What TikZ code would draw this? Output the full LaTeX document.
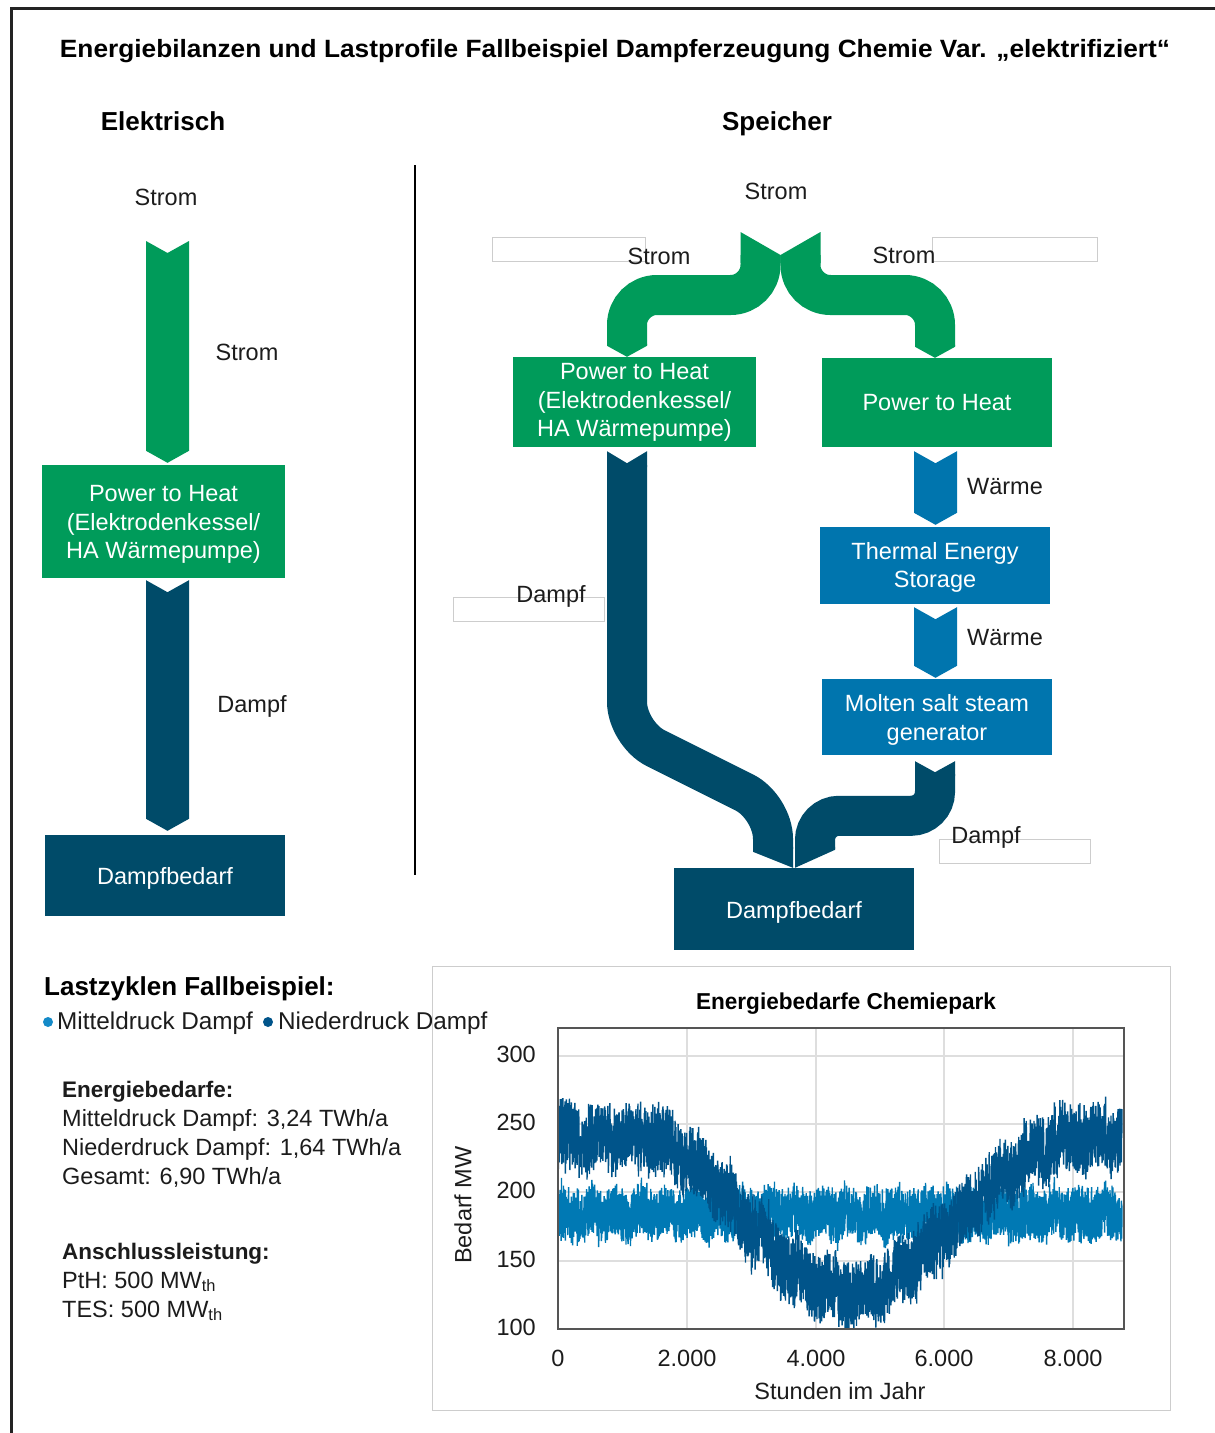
\documentclass[tikz,border=0pt]{standalone}
\usepackage{fontspec}
\setmainfont{Liberation Sans}
\usetikzlibrary{calc}

\definecolor{pthgreen}{RGB}{0,155,90}
\definecolor{steamblue}{RGB}{0,75,105}
\definecolor{heatblue}{RGB}{0,117,174}
\definecolor{seriesmd}{RGB}{0,121,180}
\definecolor{seriesnd}{RGB}{0,84,138}
\definecolor{dotmd}{RGB}{20,138,200}
\definecolor{txt}{RGB}{28,28,28}
\definecolor{framegray}{RGB}{35,35,35}
\definecolor{ghostgray}{RGB}{205,205,205}
\definecolor{gridgray}{RGB}{222,222,222}
\definecolor{axisgray}{RGB}{85,85,85}

% straight block arrow with notched tail (#1 = tail centre, #2 = tip)
\newcommand\vflow[3]{%
  \fill[#3] ($(#1)+(-21.5,0)$) -- ($(#1)+(0,12)$) -- ($(#1)+(21.5,0)$)
    -- ($(#2)+(21.5,-12)$) -- (#2) -- ($(#2)+(-21.5,-12)$) -- cycle;}

\begin{document}
\begin{tikzpicture}[x=1pt,y=-1pt,
  lbl/.style={font=\fontsize{23.5}{28}\selectfont, text=txt, inner sep=0pt},
  headlbl/.style={font=\bfseries\fontsize{26}{30}\selectfont, text=black, inner sep=0pt},
  flowbox/.style={rectangle, inner sep=0pt, text=white, align=center,
    font=\fontsize{23.5}{28.5}\selectfont},
  ghostbox/.style={draw=ghostgray, line width=0.9pt},
  band/.style={line width=40pt, line cap=butt}]

\useasboundingbox (0,0) rectangle (1215,1433);
\fill[white] (0,0) rectangle (1215,1433);

% outer frame (top and left edges)
\draw[framegray, line width=3pt] (11,1433) -- (11,8) -- (1215,8);

% headings
\node[inner sep=0pt, text=black, anchor=base] (title) at (615,57)
  {\resizebox{1110pt}{\height}{\bfseries\fontsize{25}{30}\selectfont Energiebilanzen und Lastprofile Fallbeispiel Dampferzeugung Chemie Var. „elektrifiziert“}};
\node[headlbl, anchor=base] (hElek) at (163,130) {Elektrisch};
\node[headlbl, anchor=base] (hSpei) at (777,130) {Speicher};

% divider between the two variants
\coordinate (divT) at (415,165);
\coordinate (divB) at (415,875);
\draw[black, line width=2pt] (divT) -- (divB);

% ---------------- variant "Elektrisch" ----------------
\node[flowbox, fill=pthgreen, minimum width=243, minimum height=113] (pthE) at (163.5,521.5)
  {\rule{0pt}{22pt}Power to Heat\\(Elektrodenkessel/\\HA Wärmepumpe)};
\node[flowbox, fill=steamblue, minimum width=240, minimum height=81] (dbE) at (165,875.5) {\rule{0pt}{23pt}Dampfbedarf};

\coordinate (a1t) at (167.5,241);
\coordinate (a1b) at ($(a1t |- pthE.north)+(0,-2)$);
\coordinate (a2t) at ($(a1t |- pthE.south)+(0,2)$);
\coordinate (a2b) at ($(a1t |- dbE.north)+(0,-4)$);
\vflow{a1t}{a1b}{pthgreen}
\vflow{a2t}{a2b}{steamblue}

\node[lbl] (eStromIn) at (166,197) {Strom};
\node[lbl] (eStrom) at (247,352) {Strom};
\node[lbl] (eDampf) at (252,706) {Dampf};

% ---------------- variant "Speicher" ----------------
\node[flowbox, fill=pthgreen, minimum width=243, minimum height=90] (pthS1) at (634.5,402)
  {\rule{0pt}{17pt}Power to Heat\\(Elektrodenkessel/\\HA Wärmepumpe)};
\node[flowbox, fill=pthgreen, minimum width=230, minimum height=89] (pthS2) at (937,402.5) {Power to Heat};
\node[flowbox, fill=heatblue, minimum width=230, minimum height=77] (tes) at (935,565.5) {\rule{0pt}{21pt}Thermal Energy\\Storage};
\node[flowbox, fill=heatblue, minimum width=230, minimum height=76] (msg) at (937,717) {\rule{0pt}{23pt}Molten salt steam\\generator};
\node[flowbox, fill=steamblue, minimum width=240, minimum height=82] (dbS) at (794,909) {\rule{0pt}{23pt}Dampfbedarf};

% empty label frames
\draw[ghostbox] (492,237) rectangle (645,261);
\draw[ghostbox] (932,237) rectangle (1097,261);
\draw[ghostbox] (453,597) rectangle (604,621);
\draw[ghostbox] (939,839) rectangle (1090,863);

% split of the electricity into both Power-to-Heat units
\coordinate (sIn) at (780.5,255);
\coordinate (hA) at ($(pthS1.north)+(-7.5,0)$);
\coordinate (hB) at ($(pthS2.north)+(-2,0)$);
\fill[pthgreen] ($(sIn)+(-40,-23)$) -- (sIn) -- ($(sIn)+(0,8)$) -- ($(sIn)+(-40,8)$) -- cycle;
\fill[pthgreen] (sIn) -- ($(sIn)+(40,-23)$) -- ($(sIn)+(40,8)$) -- ($(sIn)+(0,8)$) -- cycle;
\draw[pthgreen, band, rounded corners=30pt] ($(sIn)+(-20,0)$) -- ($(sIn)+(-20,40)$)
  -- ($(hA |- sIn)+(0,40)$) -- ($(hA)+(0,-12)$);
\draw[pthgreen, band, rounded corners=30pt] ($(sIn)+(20,0)$) -- ($(sIn)+(20,40)$)
  -- ($(hB |- sIn)+(0,40)$) -- ($(hB)+(0,-12)$);
\fill[pthgreen] ($(hA)+(-20,-13)$) -- ($(hA)+(20,-13)$) -- ($(hA)+(20,-11)$) -- (hA) -- ($(hA)+(-20,-11)$) -- cycle;
\fill[pthgreen] ($(hB)+(-20,-13)$) -- ($(hB)+(20,-13)$) -- ($(hB)+(20,-11)$) -- (hB) -- ($(hB)+(-20,-11)$) -- cycle;

% heat path through the storage
\coordinate (w1t) at ($(pthS2.south)+(-1.5,4)$);
\coordinate (w1b) at ($(w1t |- tes.north)+(0,-2)$);
\coordinate (w2t) at ($(w1t |- tes.south)+(0,3)$);
\coordinate (w2b) at ($(w1t |- msg.north)+(0,-1)$);
\vflow{w1t}{w1b}{heatblue}
\vflow{w2t}{w2b}{heatblue}

% steam from both branches merging into the demand
\coordinate (mg) at (dbS.north);
\coordinate (dA) at ($(hA |- pthS1.south)+(0,4)$);
\fill[steamblue] ($(dA)+(-20,0)$) -- ($(dA)+(0,12)$) -- ($(dA)+(20,0)$) -- ($(dA)+(20,16)$) -- ($(dA)+(-20,16)$) -- cycle;
\draw[steamblue, band, rounded corners=32pt] ($(dA)+(0,14)$) -- ($(dA |- mg)+(0,-134)$)
  -- ($(mg)+(-21,-61)$) -- ($(mg)+(-21,-19)$);
\fill[steamblue] ($(mg)+(-41,-21)$) -- ($(mg)+(-1,-21)$) -- ($(mg)+(-1,0)$) -- ($(mg)+(-41,-16)$) -- cycle;

\coordinate (mt) at ($(msg.south)+(-2,6)$);
\fill[steamblue] ($(mt)+(-20,0)$) -- ($(mt)+(0,11)$) -- ($(mt)+(20,0)$) -- ($(mt)+(20,15)$) -- ($(mt)+(-20,15)$) -- cycle;
\draw[steamblue, band, rounded corners=24pt] ($(mt)+(0,13)$) -- ($(mt |- mg)+(0,-52)$)
  -- ($(mg)+(21,-52)$) -- ($(mg)+(21,-19)$);
\fill[steamblue] ($(mg)+(1,-21)$) -- ($(mg)+(41,-21)$) -- ($(mg)+(41,-18)$) -- ($(mg)+(1,0)$) -- cycle;

% flow labels
\node[lbl] (sStromIn) at (776,191) {Strom};
\node[lbl] (sStromL) at (659,256) {Strom};
\node[lbl] (sStromR) at (904,255) {Strom};
\node[lbl] (sDampfL) at (551,596) {Dampf};
\node[lbl] (sDampfR) at (986,837) {Dampf};
\node[lbl] (sW1) at (1005,487) {Wärme};
\node[lbl] (sW2) at (1005,638) {Wärme};

% ---------------- load cycles ----------------
\node[headlbl, anchor=base west] (lz) at (44,995) {Lastzyklen Fallbeispiel:};
\fill[dotmd] (48,1022) circle (5);
\node[lbl, anchor=base west, font=\fontsize{24.3}{28}\selectfont] (legMD) at (57,1029.5) {Mitteldruck Dampf};
\fill[seriesnd] (268,1022) circle (5);
\node[lbl, anchor=base west, font=\fontsize{24.3}{28}\selectfont] (legND) at (278,1029.5) {Niederdruck Dampf};

\node[lbl, anchor=base west, font=\bfseries\fontsize{22.5}{27}\selectfont] (ebH) at (62,1097) {Energiebedarfe:};
\node[lbl, anchor=base west] (eb1) at (62,1126) {Mitteldruck Dampf: 3,24 TWh/a};
\node[lbl, anchor=base west] (eb2) at (62,1155) {Niederdruck Dampf: 1,64 TWh/a};
\node[lbl, anchor=base west] (eb3) at (62,1184) {Gesamt: 6,90 TWh/a};
\node[lbl, anchor=base west, font=\bfseries\fontsize{22.5}{27}\selectfont] (alH) at (62,1259) {Anschlussleistung:};
\node[lbl, anchor=base west] (al1) at (62,1288) {PtH: 500 MW\textsubscript{th}};
\node[lbl, anchor=base west] (al2) at (62,1317) {TES: 500 MW\textsubscript{th}};

% ---------------- chart ----------------
\draw[ghostgray, line width=1pt] (432,966) rectangle (1170,1410);
\node[inner sep=0pt, text=black, anchor=base] (ctitle) at (846,1009)
  {\resizebox{300pt}{\height}{\bfseries\fontsize{23}{27}\selectfont Energiebedarfe Chemiepark}};

\foreach \gx in {687,816,944,1073} \draw[gridgray, line width=1.2pt] (\gx,1028) -- (\gx,1329);
\foreach \gy in {1056,1124,1192,1261} \draw[gridgray, line width=1.2pt] (558,\gy) -- (1124,\gy);

\begin{scope}
  \clip (558,1028) rectangle (1124,1329);
  \pgfmathsetseed{11}
  % medium pressure steam: level load
  \draw[seriesmd, line width=1.4pt, line join=bevel]
    plot[domain=0:8760, samples=3400, variable=\t]
    ({558+0.064375*\t}, {1329-1.365*(84+3*sin(0.9*\t)+(2*rnd-1)*(17+9*rnd*rnd))});
  % low pressure steam: seasonal dip in summer
  \draw[seriesnd, line width=1.4pt, line join=bevel]
    plot[domain=0:8760, samples=3400, variable=\t]
    ({558+0.064375*\t}, {1329-1.365*(27+113*(1-(cos(min(90,180*(abs(\t-4450)/ifthenelse(\t<4450,6400,7400)))))^2)+4*sin(0.7*\t)+(2*rnd-1)*(22+12*rnd*rnd))});
\end{scope}
\draw[axisgray, line width=1.8pt] (558,1028) rectangle (1124,1329);

\foreach \v/\gy in {300/1056,250/1124,200/1192,150/1261,100/1329}
  \node[lbl, anchor=east] at (536,\gy-2) {\v};
\foreach \v/\gx in {0/558,2.000/687,4.000/816,6.000/944,8.000/1073}
  \node[lbl] at (\gx,1358) {\v};
\node[lbl] (xlab) at (840,1391) {Stunden im Jahr};
\node[lbl, rotate=90] (ylab) at (463,1205) {Bedarf MW};

\end{tikzpicture}
\end{document}
